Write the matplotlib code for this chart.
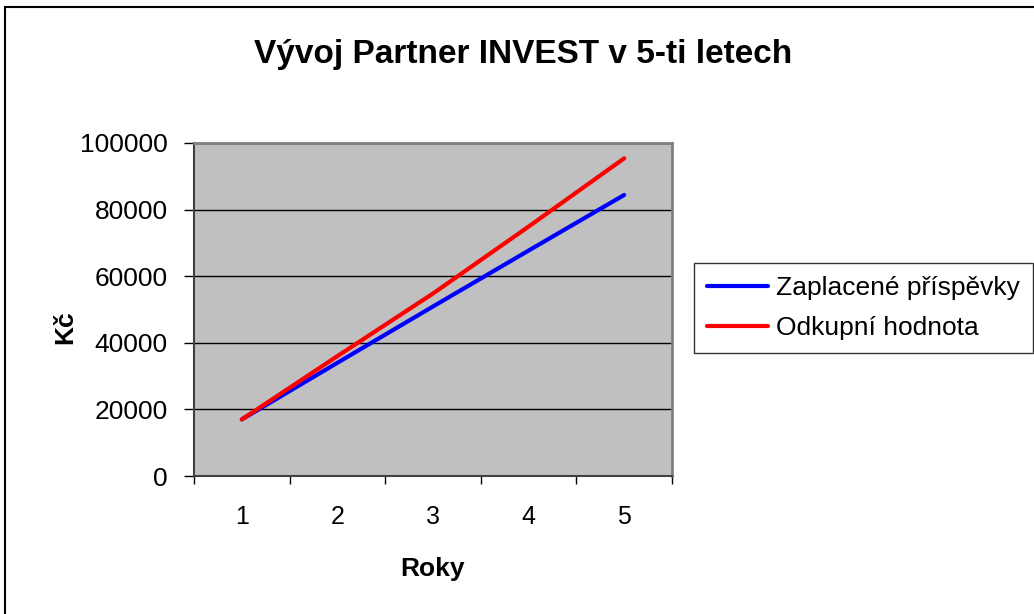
import matplotlib.pyplot as plt
from matplotlib.patches import Rectangle

plt.rcParams['font.family'] = ['Liberation Sans', 'DejaVu Sans']

roky = [1, 2, 3, 4, 5]
zaplacene = [17000, 34000, 50900, 67700, 84400]
odkupni = [17000, 36000, 54800, 74900, 95400]

fig = plt.figure(figsize=(10.34, 6.14), dpi=100)
ax = fig.add_axes([194/1034, 1 - 476/614, 478/1034, 333/614])

# outer chart border (top + left visible)
fig.patches.append(Rectangle((5/1034, -0.05), 1.1, 1 - 7/614 + 0.05,
                             transform=fig.transFigure, fill=False,
                             edgecolor='black', linewidth=1.5))

ax.set_facecolor('#c0c0c0')
ax.plot(roky, zaplacene, color='#0000ff', linewidth=3, label='Zaplacené příspěvky',
        solid_capstyle='round')
ax.plot(roky, odkupni, color='#ff0000', linewidth=3, label='Odkupní hodnota',
        solid_capstyle='round')

ax.set_xlim(0.5, 5.5)
ax.set_ylim(0, 100000)
ax.set_yticks([0, 20000, 40000, 60000, 80000, 100000])
ax.yaxis.grid(True, color='black', linewidth=1)
ax.set_axisbelow(True)

ax.set_xticks(roky)
ax.set_xticks([0.5, 1.5, 2.5, 3.5, 4.5, 5.5], minor=True)
ax.tick_params(axis='x', which='major', length=0, pad=21, labelsize=18)
ax.tick_params(axis='x', which='minor', length=6, width=1, direction='out')
ax.tick_params(axis='y', length=7, width=1, pad=12, labelsize=19)

for s in ['top', 'right']:
    ax.spines[s].set_color('#808080')
    ax.spines[s].set_linewidth(2)
ax.spines['left'].set_color('#404040')
ax.spines['bottom'].set_color('#404040')
ax.spines['left'].set_linewidth(1.5)
ax.spines['bottom'].set_linewidth(1.5)

fig.text(523/1034, 1 - 55/614, 'Vývoj Partner INVEST v 5-ti letech',
         fontsize=24, fontweight='bold', ha='center', va='center')
fig.text(432/1034, 1 - 569/614, 'Roky', fontsize=19, fontweight='bold',
         ha='center', va='center')
fig.text(65/1034, 1 - 327/614, 'Kč', fontsize=19, fontweight='bold',
         ha='center', va='center', rotation=90)

leg = fig.legend(loc='center left', bbox_to_anchor=(694/1034, 1 - 308/614),
                 fontsize=19, frameon=True, fancybox=False, handlelength=2.3,
                 handletextpad=0.3, borderpad=0.5, labelspacing=0.6,
                 borderaxespad=0)
leg.get_frame().set_edgecolor('black')
leg.get_frame().set_linewidth(1)

fig.savefig('out.png', dpi=100)
